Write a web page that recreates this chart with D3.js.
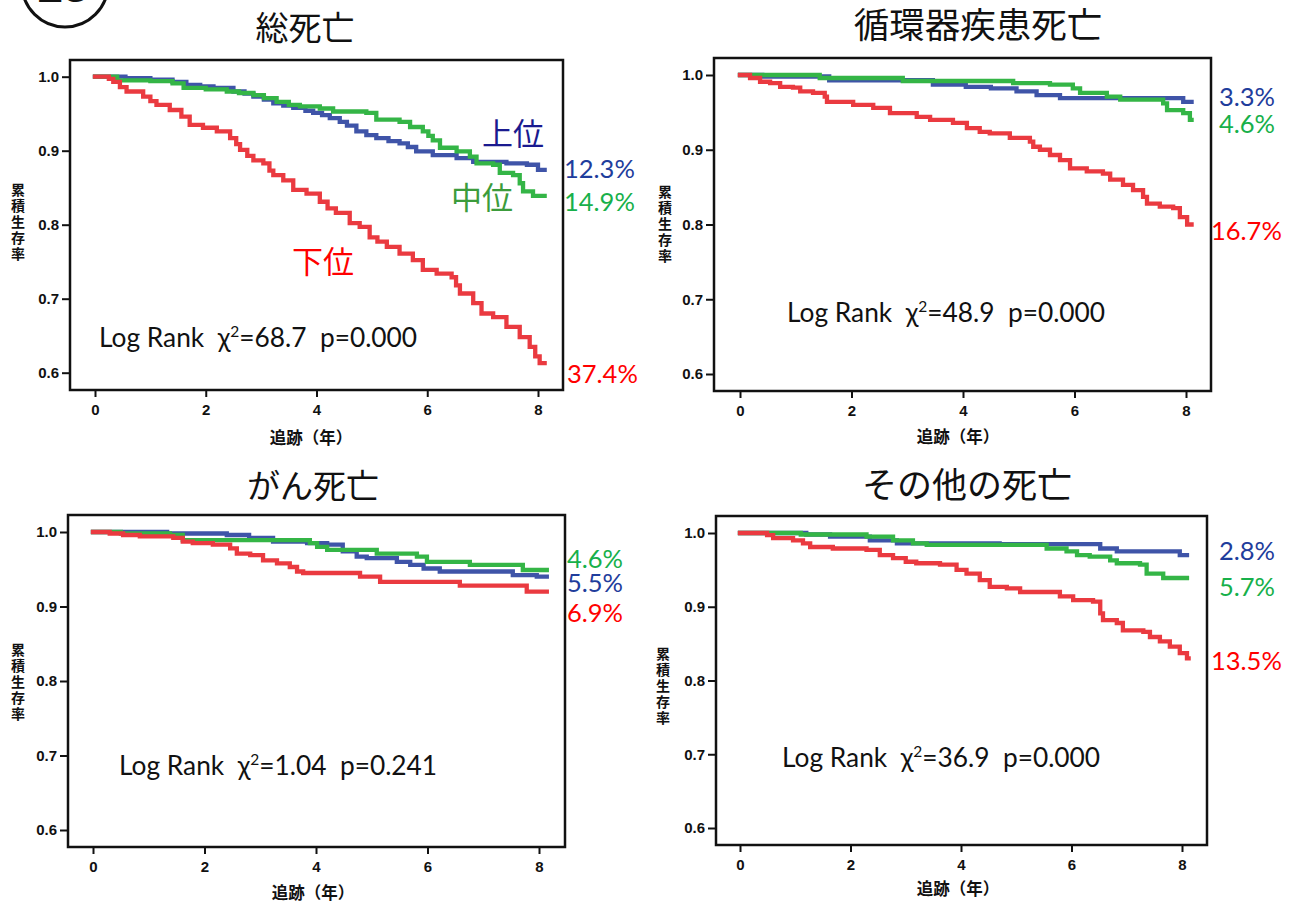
<!DOCTYPE html>
<html lang="ja">
<head>
<meta charset="utf-8">
<title>死因別累積生存率</title>
<script src="https://cdn.jsdelivr.net/npm/d3@7"></script>
<style>
  html, body { margin: 0; padding: 0; background: #fff; }
  svg { display: block; }
  .tick text { font-family: "Liberation Sans", Arial, sans-serif; font-weight: bold; font-size: 15px; fill: #111; }
  .tick line { stroke: #111; stroke-width: 2; }
</style>
</head>
<body>
<svg id="chart" width="1295" height="905"></svg>
<script>
// ---- data ----------------------------------------------------------------
const panelTitles = ["総死亡", "循環器疾患死亡", "がん死亡", "その他の死亡"];
const groupNames = ["上位", "中位", "下位"];
const timeTicks = [0, 2, 4, 6, 8];
const survTicks = [0.6, 0.7, 0.8, 0.9, 1.0];
const yAxisTitle = "累積生存率";
const xAxisTitle = "追跡（年）";

// Kaplan–Meier steps: [years, cumulative survival]
const totalUpper = [[0,1.0],[0.55,0.998],[1.0,0.996],[1.4,0.993],[1.65,0.989],[1.9,0.987],[2.14,0.985],[2.5,0.980],[2.7,0.977],[2.86,0.973],[3.05,0.969],[3.22,0.964],[3.4,0.961],[3.58,0.958],[3.8,0.954],[3.94,0.951],[4.1,0.948],[4.24,0.944],[4.42,0.939],[4.55,0.934],[4.72,0.926],[4.9,0.921],[5.08,0.917],[5.3,0.913],[5.5,0.910],[5.65,0.905],[5.8,0.899],[6.1,0.894],[6.53,0.890],[6.83,0.885],[7.43,0.883],[7.8,0.881],[8.0,0.874],[8.12,0.874]];
const totalMiddle = [[0,1.0],[0.4,0.995],[1.0,0.994],[1.4,0.991],[1.6,0.985],[2.0,0.983],[2.38,0.980],[2.6,0.978],[2.86,0.975],[3.05,0.971],[3.28,0.966],[3.5,0.962],[3.7,0.960],[4.06,0.957],[4.3,0.953],[4.9,0.951],[5.08,0.942],[5.5,0.939],[5.69,0.932],[5.92,0.926],[6.02,0.920],[6.1,0.914],[6.23,0.904],[6.53,0.899],[6.77,0.892],[6.89,0.883],[7.19,0.881],[7.31,0.870],[7.55,0.867],[7.67,0.856],[7.73,0.845],[7.91,0.839],[8.12,0.839]];
const totalLower = [[0,1.0],[0.25,0.997],[0.33,0.993],[0.45,0.986],[0.57,0.980],[0.87,0.973],[1.0,0.967],[1.11,0.962],[1.35,0.955],[1.56,0.946],[1.71,0.935],[1.95,0.931],[2.2,0.926],[2.44,0.917],[2.55,0.909],[2.62,0.901],[2.75,0.893],[2.86,0.887],[3.04,0.883],[3.15,0.873],[3.22,0.867],[3.4,0.860],[3.58,0.847],[3.82,0.842],[4.06,0.831],[4.2,0.822],[4.35,0.816],[4.6,0.802],[4.78,0.797],[4.96,0.783],[5.1,0.777],[5.27,0.770],[5.5,0.761],[5.74,0.752],[5.92,0.739],[6.17,0.734],[6.44,0.729],[6.52,0.718],[6.59,0.707],[6.83,0.694],[6.98,0.680],[7.19,0.675],[7.43,0.662],[7.67,0.648],[7.85,0.635],[7.95,0.622],[8.03,0.613],[8.12,0.613]];

const cvdUpper = [[0,1.0],[0.4,0.998],[1.6,0.993],[3.46,0.987],[4.05,0.984],[4.5,0.982],[4.96,0.978],[5.32,0.973],[5.74,0.969],[7.95,0.964],[8.1,0.964]];
const cvdMiddle = [[0,1.0],[1.43,0.996],[2.92,0.992],[4.9,0.989],[5.56,0.987],[5.97,0.982],[6.1,0.976],[6.58,0.971],[6.82,0.967],[7.59,0.962],[7.66,0.953],[7.95,0.949],[8.07,0.940],[8.1,0.940]];
const cvdLower = [[0,1.0],[0.18,0.996],[0.36,0.991],[0.54,0.989],[0.72,0.984],[0.95,0.983],[1.08,0.978],[1.31,0.976],[1.52,0.971],[1.56,0.964],[2.03,0.960],[2.39,0.956],[2.69,0.949],[3.17,0.944],[3.41,0.940],[3.82,0.936],[4.07,0.929],[4.3,0.924],[4.48,0.922],[4.84,0.916],[5.2,0.911],[5.26,0.904],[5.38,0.900],[5.56,0.893],[5.74,0.886],[5.92,0.875],[6.22,0.871],[6.51,0.868],[6.64,0.860],[6.87,0.853],[7.05,0.846],[7.23,0.837],[7.3,0.828],[7.53,0.824],[7.77,0.822],[7.89,0.810],[8.02,0.800],[8.1,0.800]];

const cancerUpper = [[0,1.0],[1.33,0.998],[2.4,0.996],[2.8,0.992],[3.23,0.987],[3.84,0.985],[4.2,0.983],[4.48,0.974],[4.73,0.967],[4.91,0.965],[5.45,0.960],[5.69,0.956],[5.93,0.951],[6.22,0.947],[7.53,0.942],[7.96,0.940],[8.14,0.940]];
const cancerMiddle = [[0,1.0],[0.5,0.998],[1.38,0.996],[1.61,0.989],[3.89,0.985],[4.02,0.980],[4.2,0.976],[5.09,0.971],[5.81,0.967],[5.99,0.960],[6.76,0.956],[7.71,0.949],[8.14,0.949]];
const cancerLower = [[0,1.0],[0.3,0.998],[0.54,0.996],[0.84,0.994],[1.44,0.992],[1.61,0.987],[1.79,0.985],[2.15,0.983],[2.46,0.978],[2.58,0.971],[2.82,0.969],[3.05,0.962],[3.3,0.958],[3.53,0.953],[3.66,0.947],[3.77,0.945],[4.79,0.940],[5.15,0.933],[6.58,0.928],[7.78,0.920],[8.14,0.920]];

const otherUpper = [[0,1.0],[1.2,0.998],[1.63,0.995],[2.35,0.990],[2.84,0.986],[4.7,0.985],[6.52,0.979],[6.82,0.975],[7.96,0.970],[8.09,0.970]];
const otherMiddle = [[0,1.0],[1.1,0.998],[2.29,0.995],[2.77,0.990],[3.13,0.986],[3.38,0.984],[5.55,0.979],[5.91,0.975],[6.1,0.970],[6.33,0.968],[6.7,0.963],[6.82,0.959],[7.24,0.957],[7.36,0.945],[7.66,0.939],[8.09,0.939]];
const otherLower = [[0,1.0],[0.49,0.997],[0.6,0.993],[0.96,0.990],[1.14,0.986],[1.27,0.981],[1.68,0.979],[2.29,0.977],[2.53,0.970],[2.77,0.966],[3.0,0.961],[3.19,0.959],[3.62,0.957],[3.92,0.950],[4.1,0.945],[4.34,0.936],[4.52,0.927],[4.83,0.925],[5.07,0.920],[5.79,0.914],[6.03,0.909],[6.39,0.907],[6.52,0.891],[6.57,0.882],[6.82,0.878],[6.93,0.868],[7.3,0.866],[7.42,0.859],[7.6,0.853],[7.78,0.846],[7.96,0.837],[8.09,0.830],[8.12,0.830]];

// 8-year cumulative mortality per group (上位, 中位, 下位)
const pctTotal = ["12.3%", "14.9%", "37.4%"];
const pctCvd = ["3.3%", "4.6%", "16.7%"];
const pctCancer = ["5.5%", "4.6%", "6.9%"];
const pctOther = ["2.8%", "5.7%", "13.5%"];

const chiValues = ["68.7", "48.9", "1.04", "36.9"];
const pValues = ["0.000", "0.000", "0.241", "0.000"];

// ---- styling ---------------------------------------------------------------
const lineColors = ["#3f54a8", "#34b546", "#ea3a40"];
const pctColors = ["#1f3d9c", "#17b04a", "#ff0000"];
const groupLabelColors = ["#1a1a8f", "#3c9c3c", "#ff0000"];
const cjk = "'Noto Sans CJK JP', 'Noto Sans CJK SC', sans-serif";
const latin = "Lato, 'Open Sans', sans-serif";

// ---- layout (pixel geometry of each panel) ---------------------------------
const layout = [
  { frame: [70, 60, 563, 390], x: [95, 538], y: [76.7, 372.7], titleX: 305, titleY: 40, titleSize: 33,
    yTitle: [18, 183], xTitle: [311, 444], log: [99, 347],
    pct: [[564, 178], [564, 211], [567, 383]],
    groupLabels: [[482, 145], [451, 209], [292, 273]] },
  { frame: [714, 58, 1211, 391], x: [740, 1186], y: [75, 374], titleX: 978, titleY: 38, titleSize: 35.5,
    yTitle: [665, 185], xTitle: [958, 443], log: [787, 322],
    pct: [[1219, 106], [1219, 133], [1211, 240]] },
  { frame: [68, 515, 565, 847], x: [93, 539], y: [532, 830], titleX: 313, titleY: 498, titleSize: 33,
    yTitle: [18, 643], xTitle: [313, 899], log: [119, 775],
    pct: [[567, 592], [567, 568], [567, 622]] },
  { frame: [716, 516, 1207, 845], x: [740, 1182], y: [533, 828], titleX: 967, titleY: 498, titleSize: 35,
    yTitle: [663, 647], xTitle: [958, 895], log: [782, 767],
    pct: [[1219, 560], [1219, 596], [1211, 670]] }
];

const panels = [
  { title: panelTitles[0], series: [totalUpper, totalMiddle, totalLower], pct: pctTotal, chi: chiValues[0], p: pValues[0], showGroups: true },
  { title: panelTitles[1], series: [cvdUpper, cvdMiddle, cvdLower], pct: pctCvd, chi: chiValues[1], p: pValues[1] },
  { title: panelTitles[2], series: [cancerUpper, cancerMiddle, cancerLower], pct: pctCancer, chi: chiValues[2], p: pValues[2] },
  { title: panelTitles[3], series: [otherUpper, otherMiddle, otherLower], pct: pctOther, chi: chiValues[3], p: pValues[3] }
];

const svg = d3.select("#chart");

// circled figure number in the corner
svg.append("circle").attr("cx", 65).attr("cy", -16).attr("r", 43)
  .attr("fill", "none").attr("stroke", "#111").attr("stroke-width", 3);
svg.append("text").attr("x", 63).attr("y", 2).attr("text-anchor", "middle")
  .style("font-family", "'Liberation Sans', Arial, sans-serif").style("font-size", "46px")
  .style("font-weight", "bold").attr("fill", "#111").text("23");

panels.forEach((pn, i) => {
  const L = layout[i];
  const [fl, ft, fr, fb] = L.frame;
  const x = d3.scaleLinear().domain([0, 8]).range(L.x);
  const y = d3.scaleLinear().domain([0.6, 1.0]).range([L.y[1], L.y[0]]);
  const g = svg.append("g");

  // title
  g.append("text").attr("x", L.titleX).attr("y", L.titleY).attr("text-anchor", "middle")
    .style("font-family", cjk).style("font-size", L.titleSize + "px").attr("fill", "#111").text(pn.title);

  // survival curves
  const line = d3.line().x(d => x(d[0])).y(d => y(d[1])).curve(d3.curveStepAfter);
  pn.series.forEach((s, k) => {
    g.append("path").datum(s).attr("d", line).attr("fill", "none")
      .attr("stroke", lineColors[k]).attr("stroke-width", 4.3)
      .attr("stroke-linejoin", "miter").attr("stroke-linecap", "square");
  });

  // plot frame
  g.append("rect").attr("x", fl).attr("y", ft).attr("width", fr - fl).attr("height", fb - ft)
    .attr("fill", "none").attr("stroke", "#111").attr("stroke-width", 2.5);

  // axes
  g.append("g").attr("transform", `translate(${fl - 1},0)`)
    .call(d3.axisLeft(y).tickValues(survTicks).tickFormat(d3.format(".1f")).tickSize(7).tickPadding(3))
    .call(a => a.select(".domain").remove());
  g.append("g").attr("transform", `translate(0,${fb + 1})`)
    .call(d3.axisBottom(x).tickValues(timeTicks).tickFormat(d3.format("d")).tickSize(6).tickPadding(7))
    .call(a => a.select(".domain").remove());

  // vertical y-axis title, characters set upright top to bottom
  g.append("text").attr("x", L.yTitle[0]).attr("y", L.yTitle[1])
    .style("writing-mode", "vertical-rl").style("text-orientation", "upright")
    .style("letter-spacing", "2px")
    .style("font-family", cjk).style("font-size", "14px").style("font-weight", "bold")
    .attr("fill", "#111").text(yAxisTitle);

  // x-axis title
  g.append("text").attr("x", L.xTitle[0]).attr("y", L.xTitle[1]).attr("text-anchor", "middle")
    .style("font-family", cjk).style("font-size", "16.5px").style("font-weight", "bold")
    .attr("fill", "#111").text(xAxisTitle);

  // log-rank statistic
  const lt = g.append("text").attr("x", L.log[0]).attr("y", L.log[1])
    .style("font-family", latin).style("font-size", "26.3px").attr("fill", "#111")
    .attr("xml:space", "preserve");
  lt.append("tspan").text("Log Rank  χ");
  lt.append("tspan").attr("dy", -10).style("font-size", "15.5px").text("2");
  lt.append("tspan").attr("dy", 10).text(`=${pn.chi}  p=${pn.p}`);

  // mortality percentages beside the curve ends
  pn.pct.forEach((t, k) => {
    g.append("text").attr("x", L.pct[k][0]).attr("y", L.pct[k][1])
      .style("font-family", latin).style("font-size", "25.5px").attr("fill", pctColors[k]).text(t);
  });

  // group names inside the first panel
  if (pn.showGroups) {
    groupNames.forEach((nm, k) => {
      g.append("text").attr("x", L.groupLabels[k][0]).attr("y", L.groupLabels[k][1])
        .style("font-family", cjk).style("font-size", "31px").attr("fill", groupLabelColors[k]).text(nm);
    });
  }
});
</script>
</body>
</html>
